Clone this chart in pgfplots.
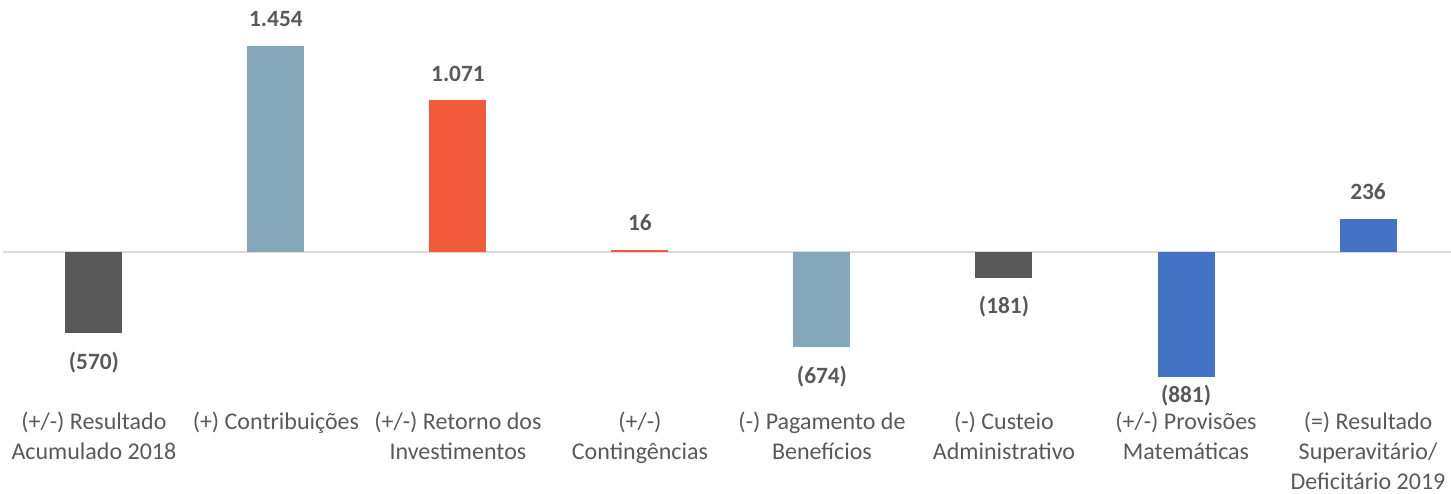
\documentclass[border=0pt]{standalone}
\usepackage{pgfplots}
\pgfplotsset{compat=1.18}
\usepackage{fontspec}
\setmainfont{Carlito}
\definecolor{cdark}{HTML}{595959}
\definecolor{cgblue}{HTML}{84A7BA}
\definecolor{cred}{HTML}{F25A3C}
\definecolor{cblue}{HTML}{4472C4}
\definecolor{czero}{HTML}{D9D9D9}
\begin{document}
\begin{tikzpicture}
\begin{axis}[
  scale only axis,
  width=1088.25pt, height=303.75pt,
  xmin=-0.516, xmax=7.456,
  ymin=-1080, ymax=1778.6,
  axis line style={draw=none},
  ytick=\empty,
  xtick={0,1,2,3,4,5,6,7},
  xticklabels={{(+/-) Resultado\\Acumulado 2018},{(+) Contribuições},{(+/-) Retorno dos\\Investimentos},{(+/-)\\Contingências},{(-) Pagamento de\\Benefícios},{(-) Custeio\\Administrativo},{(+/-) Provisões\\Matemáticas},{(=) Resultado\\Superavitário/\\Deficitário 2019}},
  major tick length=0pt,
  xticklabel style={align=center, font=\fontsize{18}{22.5}\selectfont, text=cdark, inner sep=0pt, yshift=-5pt},
  mybar/.style={ybar, bar width=42.75pt, bar shift=0pt, draw=none, fill=#1,
    nodes near coords, point meta=explicit symbolic,
    every node near coord/.append style={font=\fontsize{17.5}{21}\selectfont\bfseries, text=cdark, inner xsep=0pt, inner ysep=14pt}},
  negbar/.style={mybar=#1, nodes near coords align={below}},
  clip=false,
]
\addplot[czero, line width=1.5pt, forget plot] coordinates {(-0.5,0) (7.456,0)};
\addplot[negbar=cdark] coordinates {(0,-570) [{(570)}]};
\addplot[mybar=cgblue] coordinates {(1,1454) [{1.454}]};
\addplot[mybar=cred] coordinates {(2,1071) [{1.071}]};
\addplot[mybar=cred] coordinates {(3,16) [{16}]};
\addplot[negbar=cgblue] coordinates {(4,-674) [{(674)}]};
\addplot[negbar=cdark] coordinates {(5,-181) [{(181)}]};
\addplot[negbar=cblue, every node near coord/.append style={inner ysep=6pt}] coordinates {(6,-881) [{(881)}]};
\addplot[mybar=cblue] coordinates {(7,236) [{236}]};
\coordinate (tl) at (rel axis cs:0,1);
\coordinate (br) at (rel axis cs:1,0);
\end{axis}
\pgfresetboundingbox
\path (tl) rectangle ([yshift=-66pt]br);
\end{tikzpicture}
\end{document}
